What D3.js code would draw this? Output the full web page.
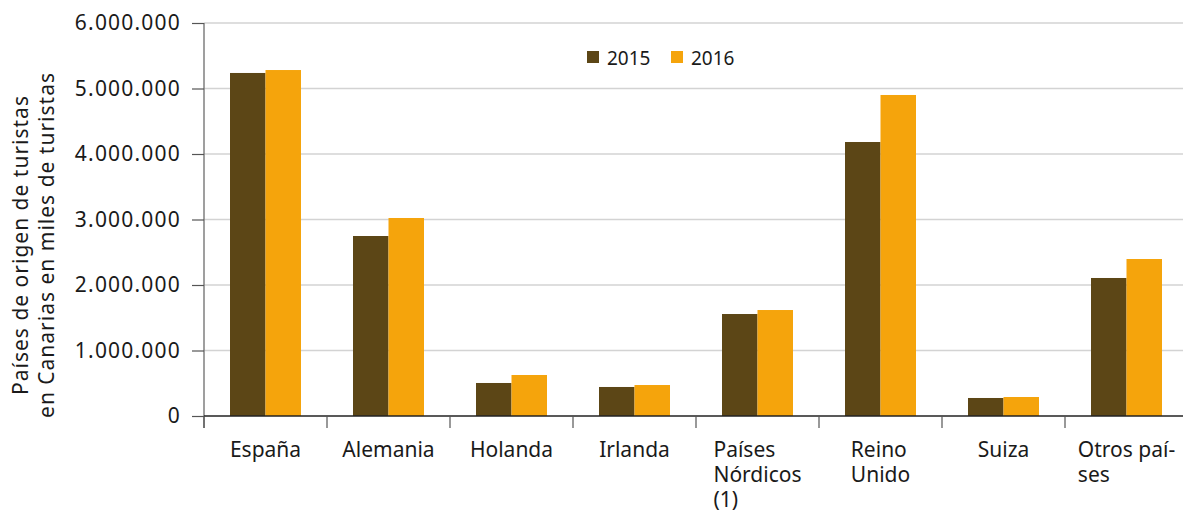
<!DOCTYPE html>
<html><head><meta charset="utf-8">
<script src="https://cdn.jsdelivr.net/npm/d3@7"></script>
<style>
html,body{margin:0;padding:0;background:#fff;}
svg text{font-family:"Noto Sans","DejaVu Sans",sans-serif;fill:#1a1a1a;}
</style></head>
<body><svg id="chart" width="1183" height="510"></svg>
<script>
const categories = [["España"],["Alemania"],["Holanda"],["Irlanda"],["Países","Nórdicos","(1)"],["Reino","Unido"],["Suiza"],["Otros paí-","ses"]];
const series = ["2015","2016"];
const values2015 = [5237000, 2748000, 504000, 443000, 1557000, 4183000, 275000, 2107000];
const values2016 = [5282000, 3023000, 626000, 473000, 1618000, 4901000, 290000, 2397000];
const yTicks = [0,1000000,2000000,3000000,4000000,5000000,6000000];
const colors = ["#5c4616","#f5a40c"];
const yTitle = ["Países de origen de turistas","en Canarias en miles de turistas"];

(function(){
const svg = d3.select("#chart");
const mL = 204, mR = 1188, mT = 23, mB = 416;
const x = d3.scaleBand().domain(d3.range(categories.length)).range([mL,mR]).paddingInner(0).paddingOuter(0);
const inner = d3.scaleBand().domain(series).range([0,x.bandwidth()]).paddingInner(0).paddingOuter(26/35.5);
const y = d3.scaleLinear().domain([0,6000000]).range([mB,mT]);
const fmt = v => d3.format(",")(v).replace(/,/g,".");

svg.append("g").selectAll("line").data(yTicks.filter(d=>d>0)).join("line")
  .attr("x1",mL).attr("x2",mR).attr("y1",d=>y(d)).attr("y2",d=>y(d))
  .attr("stroke","#d3d3d3").attr("stroke-width",1.5);

const data = [values2015, values2016];
series.forEach((s,si)=>{
  svg.append("g").selectAll("rect").data(data[si]).join("rect")
    .attr("x",(d,i)=>x(i)+inner(s)).attr("width",inner.bandwidth())
    .attr("y",d=>y(d)).attr("height",d=>mB-y(d)).attr("fill",colors[si]);
});

const yAxis = svg.append("g").attr("transform",`translate(${mL},0)`)
  .call(d3.axisLeft(y).tickValues(yTicks).tickFormat(fmt).tickSize(12).tickPadding(11));
yAxis.select(".domain").attr("stroke","#7f7f7f").attr("stroke-width",1.5).attr("d",`M0,${mT}V${mB+12}`);
yAxis.selectAll(".tick line").attr("stroke","#555").attr("stroke-width",1.2);
yAxis.selectAll(".tick text").attr("font-size",21).attr("fill","#1a1a1a")
  .attr("font-family","'Liberation Sans',Arial,sans-serif").attr("letter-spacing","1.2px");

const xAxis = svg.append("g").attr("transform",`translate(0,${mB})`);
xAxis.append("line").attr("x1",mL).attr("x2",mR).attr("y1",0).attr("y2",0).attr("stroke","#222").attr("stroke-width",1.5);
xAxis.selectAll("line.t").data(d3.range(categories.length+1)).join("line").attr("class","t")
  .attr("x1",d=>mL+d*x.step()).attr("x2",d=>mL+d*x.step()).attr("y1",0).attr("y2",12)
  .attr("stroke","#555").attr("stroke-width",1.2);
categories.forEach((lines,i)=>{
  const g = xAxis.append("g");
  const t = g.append("text").attr("font-size",21);
  lines.forEach((ln,j)=>t.append("tspan").attr("x",0).attr("y",41+j*25).text(ln));
  const w = t.node().getBBox().width;
  g.attr("transform",`translate(${x(i)+x.bandwidth()/2 - w/2},0)`);
});

const yt = svg.append("text").attr("transform","translate(0,245) rotate(-90)").attr("text-anchor","middle")
  .attr("font-size",21).attr("letter-spacing","1px");
yTitle.forEach((ln,j)=>yt.append("tspan").attr("x",0).attr("y",28+j*26).text(ln));

const lg = svg.append("g");
const lx = [587,671];
series.forEach((s,i)=>{
  lg.append("rect").attr("x",lx[i]).attr("y",51).attr("width",12).attr("height",12).attr("fill",colors[i]);
  lg.append("text").attr("x",lx[i]+20).attr("y",65).attr("font-size",19).text(s);
});
})();
</script></body></html>
